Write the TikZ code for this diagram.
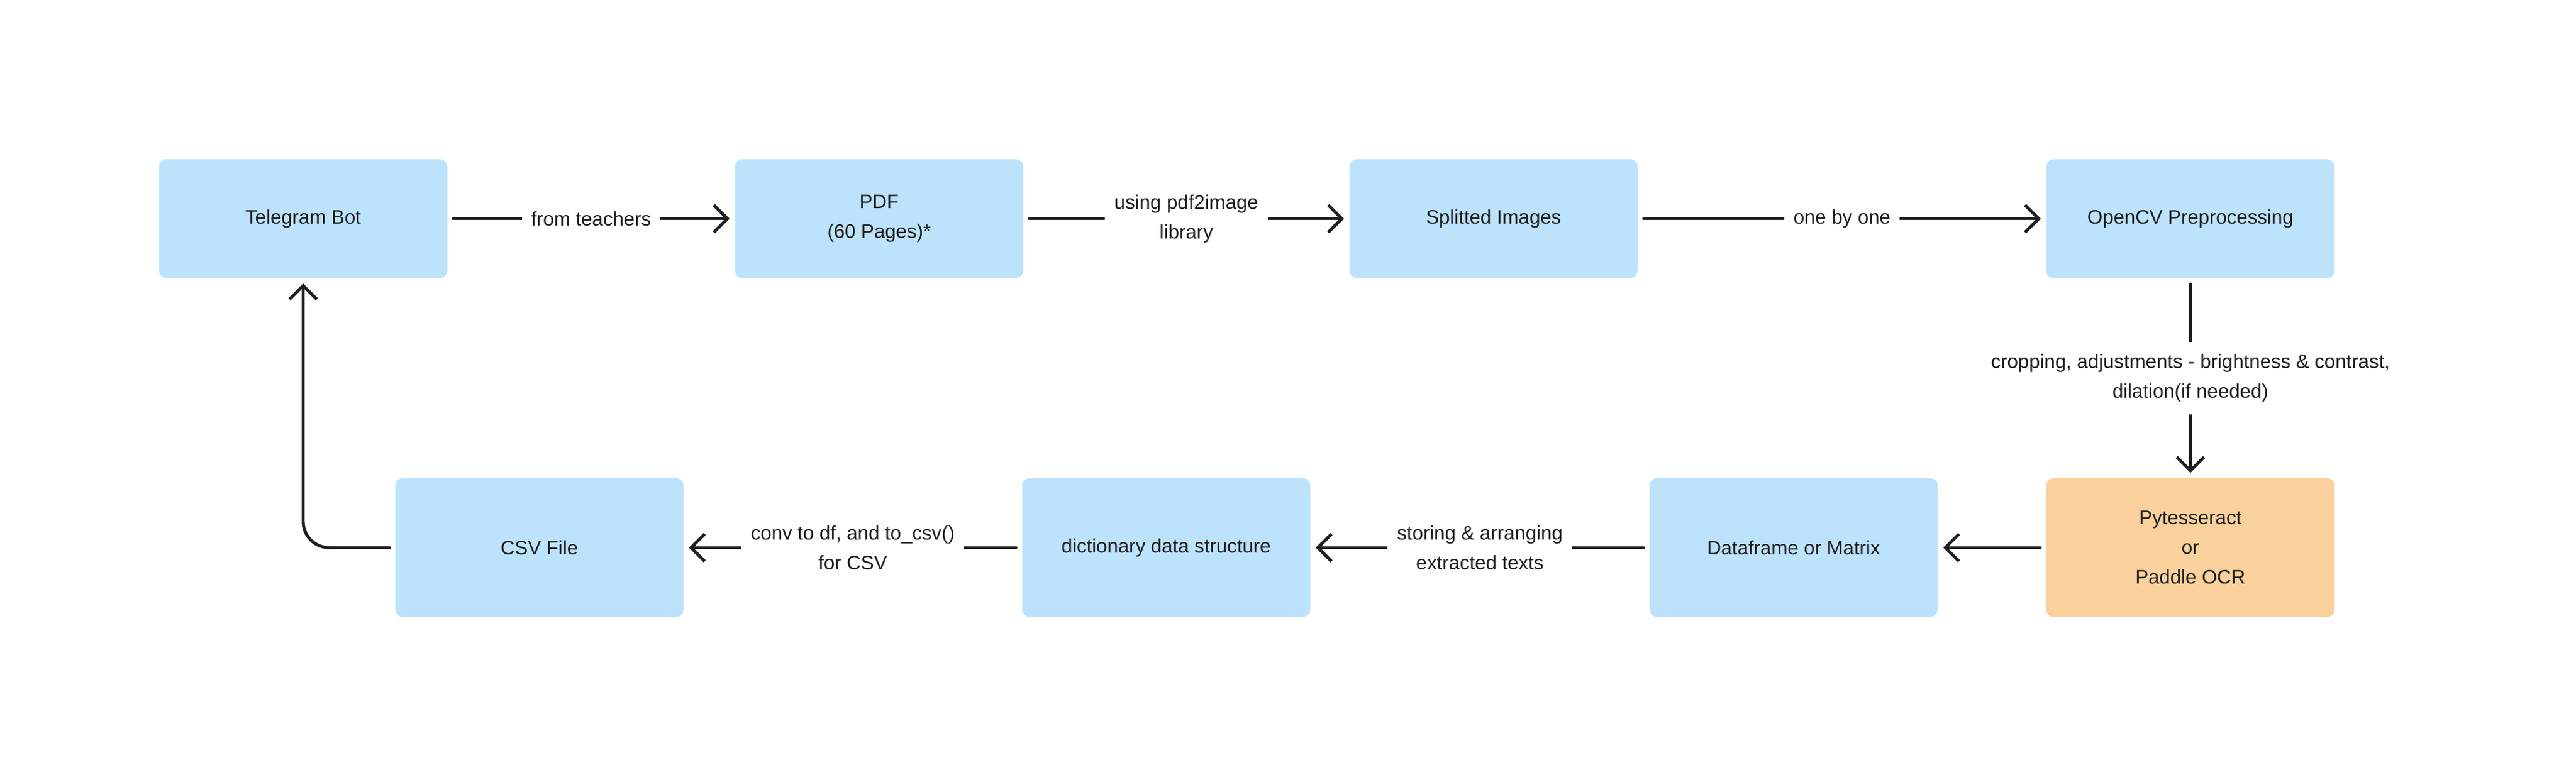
\documentclass[tikz,border=0pt]{standalone}
\usepackage{fontspec}
\setmainfont{Liberation Sans}
\usetikzlibrary{arrows.meta}
\definecolor{boxblue}{HTML}{BDE3FC}
\definecolor{boxorange}{HTML}{FAD19C}
\definecolor{ink}{HTML}{1E1E1E}

\begin{document}
\begin{tikzpicture}[
    font=\fontsize{9}{13.6}\selectfont, text=ink,
    box/.style={fill=boxblue, rounded corners=0.12cm, minimum width=4.65cm, minimum height=1.92cm, align=center},
    lowbox/.style={box, minimum height=2.24cm},
    flow/.style={draw=ink, line width=1.4pt, line cap=round, line join=round, -{Straight Barb[length=0.22cm,width=0.44cm]}, shorten <=0.09cm, shorten >=0.08cm},
    lbl/.style={fill=white, inner xsep=0.15cm, align=center}
    ]
    \useasboundingbox (0,0) rectangle (41.55,-12.51);
    % top row
    \node[box] (tg) at (4.89,-3.53) {Telegram Bot};
    \node[box] (pdf) at (14.18,-3.53) {PDF\\(60 Pages)*};
    \node[box] (split) at (24.09,-3.53) {Splitted Images};
    \node[box] (cv) at (35.33,-3.53) {OpenCV Preprocessing};
    % bottom row
    \node[lowbox] (csv) at (8.70,-8.84) {CSV File};
    \node[lowbox] (dict) at (18.81,-8.84) {dictionary data structure};
    \node[lowbox] (df) at (28.93,-8.84) {Dataframe or Matrix};
    \node[lowbox, fill=boxorange] (ocr) at (35.33,-8.84) {Pytesseract\\or\\Paddle OCR};
    % arrows
    \draw[flow] (tg) -- node[lbl] {from teachers} (pdf);
    \draw[flow] (pdf) -- node[lbl] {using pdf2image\\library} (split);
    \draw[flow] (split) -- node[lbl] {one by one} (cv);
    \draw[flow] (cv) -- node[lbl, inner ysep=0.2cm] {cropping, adjustments - brightness \& contrast,\\dilation(if needed)} (ocr);
    \draw[flow] (ocr) -- (df);
    \draw[flow] (df) -- node[lbl] {storing \& arranging\\extracted texts} (dict);
    \draw[flow] (dict) -- node[lbl] {conv to df, and to\_csv()\\for CSV} (csv);
    \draw[flow, rounded corners=0.42cm] (csv) -| (tg);
\end{tikzpicture}
\end{document}
